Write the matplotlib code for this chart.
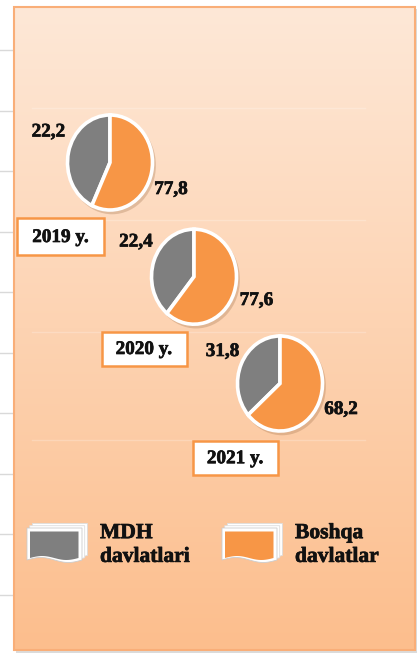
import numpy as np
import matplotlib.pyplot as plt
import matplotlib.patheffects as pe
from matplotlib.patches import Rectangle, Ellipse, Polygon

W, H = 418, 655

years = ['2019 y.', '2020 y.', '2021 y.']
mdh_values = [22.2, 22.4, 31.8]          # printed labels
other_values = [77.8, 77.6, 68.2]
# slice sizes as they are drawn in the picture (they do not follow the labels)
mdh_drawn = [43.0, 39.0, 36.5]
other_drawn = [57.0, 61.0, 63.5]
legend_labels = ['MDH\ndavlatlari', 'Boshqa\ndavlatlar']
colors = ['#7f7f7f', '#f79646']

fnt = dict(family='Liberation Serif', weight='bold', color='#111111',
           path_effects=[pe.withStroke(linewidth=0.5, foreground='#111111')])

fig = plt.figure(figsize=(W / 100, H / 100), dpi=100)
fig.patch.set_facecolor('white')
ax = fig.add_axes([0, 0, 1, 1])
ax.set_xlim(0, W)
ax.set_ylim(H, 0)
ax.axis('off')


def px_axes(x, y, w, h, z=5):
    a = fig.add_axes([x / W, 1 - (y + h) / H, w / W, h / H], zorder=z)
    a.axis('off')
    return a


# grid lines peeking out on the left
for gy in np.arange(50, 600, 60.5):
    ax.plot([0, 14], [gy, gy], color='#d9d9d9', lw=1, zorder=0)

# panel with gradient
ax.add_patch(Rectangle((16, 9), 401, 644, color='#999999', alpha=0.35, zorder=1, lw=0))
top = np.array([254, 232, 215]) / 255
bot = np.array([252, 190, 141]) / 255
t = np.linspace(0, 1, 256)[:, None]
grad = (top * (1 - t) + bot * t)[:, None, :]
ax.imshow(grad, extent=(14, 415, 650, 7), aspect='auto', zorder=2)
ax.add_patch(Rectangle((14, 7), 401, 643, fill=False, ec='#f9ae78', lw=1.5, zorder=3))
for ly in [108, 220, 332, 440]:
    ax.plot([32, 365], [ly, ly], color='white', lw=1, alpha=0.22, zorder=3)

# pies
centers = [(110, 162.5), (194, 276.7), (280, 383.5)]
rx, ry = 42.5, 47.5
pad = 1.12
lab_mdh = [(48.5, 132), (136, 242), (222.5, 351.5)]
lab_oth = [(171, 189.5), (256.5, 300.5), (341, 409.5)]
boxes = [(17, 218, 87, 37), (101.5, 331.5, 85, 34), (192.7, 440.7, 85, 34)]

for i in range(3):
    cx, cy = centers[i]
    pa = px_axes(cx - rx * pad, cy - ry * pad, 2 * rx * pad, 2 * ry * pad)
    pa.add_patch(Ellipse((0.05, -0.06), 2.06, 2.06, color='#a0704a', alpha=0.3, lw=0))
    pa.pie([mdh_drawn[i], other_drawn[i]], colors=colors, startangle=90,
           counterclock=True, radius=1,
           wedgeprops=dict(edgecolor='white', linewidth=2.6))
    pa.set_aspect('auto')
    pa.set_xlim(-pad, pad)
    pa.set_ylim(-pad, pad)

    ax.text(*lab_mdh[i], f'{mdh_values[i]:.1f}'.replace('.', ','), fontsize=13.8,
            ha='center', va='center', zorder=6, **fnt)
    ax.text(*lab_oth[i], f'{other_values[i]:.1f}'.replace('.', ','), fontsize=13.8,
            ha='center', va='center', zorder=6, **fnt)
    bx, by, bw, bh = boxes[i]
    ax.add_patch(Rectangle((bx, by), bw, bh, fc='white', ec='#f79646', lw=1.8, zorder=6))
    ax.text(bx + bw / 2, by + bh / 2 + 1, years[i], fontsize=13.8,
            ha='center', va='center', zorder=7, **fnt)


# legend with stacked-sheet icons
def sheet(x0, y0, w, h, amp=2.5):
    xs = np.linspace(x0, x0 + w, 30)
    ys = y0 + h - amp * np.sin((xs - x0) / w * 2 * np.pi)
    pts = [(x0, y0), (x0 + w, y0)] + list(zip(xs[::-1], ys[::-1]))
    return pts


icon_x = [27, 222]
text_x = [100, 295]
for j in range(2):
    x0 = icon_x[j]
    for k in (2, 1):
        ax.add_patch(Polygon(sheet(x0 + 2.7 * k, 528 - 2.3 * k, 55, 32), closed=True,
                             fc='white', ec='#dddddd', lw=0.6, zorder=6))
    ax.add_patch(Polygon(sheet(x0, 528, 55, 32), closed=True,
                         fc='white', ec='#cccccc', lw=0.6, zorder=7))
    ax.add_patch(Polygon(sheet(x0 + 3, 531.5, 48.5, 26.5, amp=2), closed=True,
                         fc=colors[j], ec='none', zorder=8))
    ax.text(text_x[j], 545, legend_labels[j], fontsize=15.5, ha='left', va='center',
            linespacing=1.25, zorder=8, **fnt)

fig.savefig('out.png', dpi=100)
